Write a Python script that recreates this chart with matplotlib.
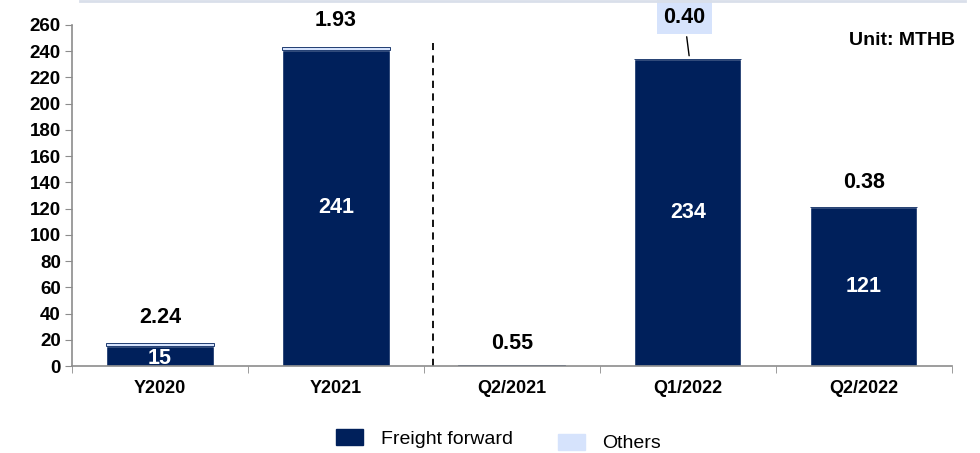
import numpy as np
import matplotlib.pyplot as plt
from matplotlib.lines import Line2D
from matplotlib.patches import Patch

plt.rcParams['font.family'] = ['Liberation Sans', 'DejaVu Sans']

# data
categories = ['Y2020', 'Y2021', 'Q2/2021', 'Q1/2022', 'Q2/2022']
freight = [15, 241, 0.3, 234, 121]
others = [2.24, 1.93, 0.55, 0.40, 0.38]
freight_labels = ['15', '241', '', '234', '121']
others_labels = ['2.24', '1.93', '0.55', '0.40', '0.38']

navy = '#00205B'
light = '#D6E3FC'
grey = '#8C8C8C'

fig = plt.figure(figsize=(9.8, 4.53), dpi=100)
ax = fig.add_axes([0.0735, 0.192, 0.8975, 0.753])

x = np.arange(len(categories))
ax.bar(x, freight, width=0.61, color=navy, edgecolor='white', linewidth=1)
ax.bar(x, others, width=0.61, bottom=freight, color=light, edgecolor=navy, linewidth=0.6)

ax.set_xlim(-0.5, 4.5)
ax.set_ylim(0, 260)
ax.set_yticks(range(0, 261, 20))
ax.set_xticks(x)
ax.set_xticklabels(categories, fontsize=13, fontweight='bold')
ax.set_xticks(np.arange(-0.5, 5, 1), minor=True)
ax.tick_params(axis='x', which='major', length=0, pad=10)
ax.tick_params(axis='x', which='minor', length=5, color=grey, direction='out')
ax.tick_params(axis='y', length=5, color=grey, labelsize=13.5, pad=3)
for lab in ax.get_yticklabels():
    lab.set_fontweight('bold')

for s in ['top', 'right']:
    ax.spines[s].set_visible(False)
for s in ['left', 'bottom']:
    ax.spines[s].set_color(grey)
    ax.spines[s].set_linewidth(1.2)

# inner labels
for i, t in enumerate(freight_labels):
    if t:
        yy = freight[i] / 2 if freight[i] > 40 else 6
        ax.text(i, yy, t, ha='center', va='center', color='white',
                fontsize=15.5, fontweight='bold')

# others labels
top_pos = [37, 263, 17, None, 140]
for i, t in enumerate(others_labels):
    if top_pos[i] is not None:
        ax.text(i, top_pos[i], t, ha='center', va='center', fontsize=15.5,
                fontweight='bold', clip_on=False)
ax.annotate(others_labels[3], xy=(3.01, freight[3] + others[3]),
            xytext=(2.98, 266), ha='center', va='center', fontsize=15.5,
            fontweight='bold', annotation_clip=False,
            bbox=dict(boxstyle='square,pad=0.3', fc=light, ec='none'),
            arrowprops=dict(arrowstyle='-', color='black', lw=1))

# separator
ax.plot([1.55, 1.55], [0, 246], ls=(0, (4, 3)), color='black', lw=1.3, clip_on=False)

ax.text(4.52, 248, 'Unit: MTHB', ha='right', va='center', fontsize=14,
        fontweight='bold')

# top rule
fig.add_artist(Line2D([0.082, 0.985], [0.997, 0.997], color='#D9DFEA', lw=2))

fig.legend(handles=[Patch(color=navy, label='Freight forward')], loc='center',
           bbox_to_anchor=(0.433, 0.032), frameon=False, fontsize=14,
           handlelength=1.4, handleheight=0.9, handletextpad=0.9)
fig.legend(handles=[Patch(color=light, label='Others')], loc='center',
           bbox_to_anchor=(0.622, 0.022), frameon=False, fontsize=14,
           handlelength=1.4, handleheight=0.9, handletextpad=0.9)

fig.savefig('out.png', dpi=100)
